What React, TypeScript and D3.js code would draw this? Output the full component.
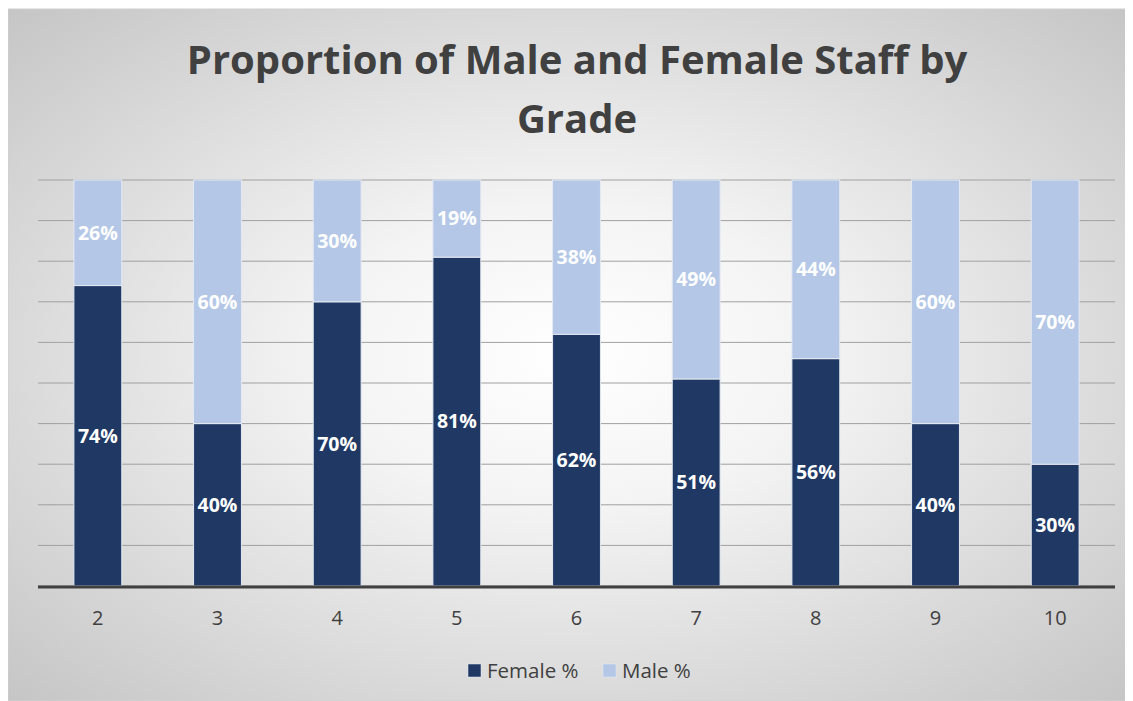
import * as d3 from "d3";

const grades = ["2", "3", "4", "5", "6", "7", "8", "9", "10"];
const femalePct = [74, 40, 70, 81, 62, 51, 56, 40, 30];
const malePct = [26, 60, 30, 19, 38, 49, 44, 60, 70];
const seriesNames = ["Female %", "Male %"];
const gridTicks = [0, 10, 20, 30, 40, 50, 60, 70, 80, 90, 100];

const W = 1125;
const H = 693;
const FONT = "'Open Sans', 'Noto Sans', sans-serif";
const colors = ["#1f3864", "#b4c7e7"];

export default function App() {
  // plot area in svg coords (svg sits at 8,8 of the page)
  const left = 30;
  const right = 1107;
  const top = 172;
  const bottom = 578;

  const x = d3.scaleBand().domain(grades).range([left, right]).paddingInner(0.6).paddingOuter(0.3);
  const y = d3.scaleLinear().domain([0, 100]).range([bottom, top]);

  const stacked = d3
    .stack<any>()
    .keys(["f", "m"])(grades.map((g, i) => ({ g, f: femalePct[i], m: malePct[i] })));

  return (
    <svg width={W} height={H} style={{ display: "block" }}>
      <defs>
        <radialGradient id="bg" cx="50%" cy="50%" r="72%">
          <stop offset="0%" stopColor="#ffffff" />
          <stop offset="30%" stopColor="#f4f4f4" />
          <stop offset="100%" stopColor="#c4c4c4" />
        </radialGradient>
      </defs>
      <rect x={0} y={1} width={W} height={H - 1} fill="url(#bg)" stroke="#d0d0d0" />

      <text
        x={569}
        y={66}
        textAnchor="middle"
        fontFamily={FONT}
        fontWeight="bold"
        fontSize={40}
        fill="#404040"
      >
        <tspan x={569}>Proportion of Male and Female Staff by</tspan>
        <tspan x={569} dy={59}>Grade</tspan>
      </text>

      {gridTicks.map((t) => (
        <line key={t} x1={left} x2={right} y1={y(t)} y2={y(t)} stroke="#a0a0a0" strokeWidth={1} />
      ))}

      {stacked.map((s, si) =>
        s.map((d: any, i: number) => {
          const y0 = y(d[1]);
          const y1 = y(d[0]);
          const cx = (x(grades[i]) ?? 0) + x.bandwidth() / 2;
          const v = si === 0 ? femalePct[i] : malePct[i];
          return (
            <g key={`${si}-${i}`}>
              <rect
                x={x(grades[i])}
                y={y0}
                width={x.bandwidth()}
                height={y1 - y0}
                fill={colors[si]}
                stroke="#e4e9f2"
                strokeWidth={1}
              />
              <text
                x={cx}
                y={(y0 + y1) / 2}
                dy="0.35em"
                textAnchor="middle"
                fontFamily={FONT}
                fontWeight="bold"
                fontSize={19.5}
                fill="#ffffff"
              >
                {v}%
              </text>
            </g>
          );
        })
      )}

      <line x1={left} x2={right} y1={bottom + 1} y2={bottom + 1} stroke="#404040" strokeWidth={3} />

      {grades.map((g) => (
        <text
          key={g}
          x={(x(g) ?? 0) + x.bandwidth() / 2}
          y={610}
          dy="0.35em"
          textAnchor="middle"
          fontFamily={FONT}
          fontSize={20}
          fill="#404040"
        >
          {g}
        </text>
      ))}

      {seriesNames.map((n, i) => {
        const lx = i === 0 ? 460 : 595;
        return (
          <g key={n}>
            <rect x={lx} y={656} width={13} height={13} fill={colors[i]} stroke="#e4e9f2" strokeWidth={0.5} />
            <text x={lx + 19} y={662.5} dy="0.35em" fontFamily={FONT} fontSize={20.5} fill="#404040">
              {n}
            </text>
          </g>
        );
      })}
    </svg>
  );
}
